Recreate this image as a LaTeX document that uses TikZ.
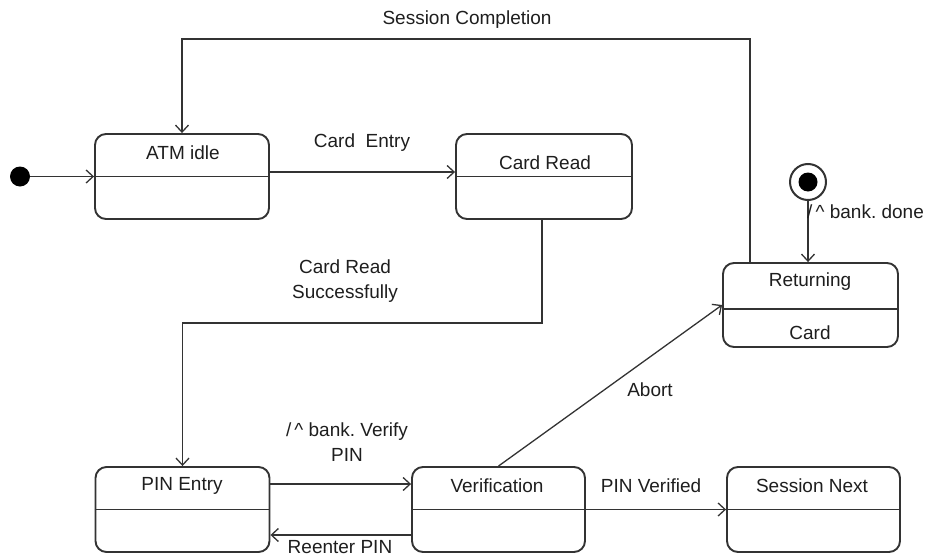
\documentclass[tikz,border=0pt]{standalone}
\usepackage{fontspec}
\setmainfont{Liberation Sans}
\usetikzlibrary{arrows.meta,calc}
\definecolor{ink}{HTML}{333333}
\definecolor{txt}{HTML}{1E1E1E}
\begin{document}
\begin{tikzpicture}[x=1pt,y=-1pt,
  every node/.style={font=\fontsize{19}{25}\selectfont, text=txt},
  statebox/.style={draw=ink, line width=1.9pt, rounded corners=11pt,
    minimum height=85pt, inner sep=0pt},
  divider/.style={draw=ink, line width=1.6pt},
  trans/.style={draw=ink, line width=1.3pt,
    -{Straight Barb[length=7pt,width=13pt,line width=1.3pt]}},
  lbl/.style={align=center, inner sep=1pt}]
\useasboundingbox (0,0) rectangle (938,557);

% pseudo states
\node[circle, fill=black, minimum size=20pt, inner sep=0pt] (init) at (20,176.5) {};
\node[circle, draw=ink, line width=2pt, minimum size=36pt, inner sep=0pt] (final) at (808,182) {};
\node[circle, fill=black, minimum size=19pt, inner sep=0pt] (finaldot) at (808,182) {};

% states
\node[statebox, minimum width=174pt] (atm) at (182,176.5) {};
\node[statebox, minimum width=176pt] (cr)  at (544,176.5) {};
\node[statebox, minimum width=174pt] (pin) at (182.5,509.5) {};
\node[statebox, minimum width=173pt] (ver) at (498.5,509.5) {};
\node[statebox, minimum width=173pt] (sn)  at (813.5,509.5) {};
\node[statebox, minimum width=175pt, minimum height=84pt] (ret) at (810.5,305) {};

\foreach \s in {atm,cr,pin,ver,sn} \draw[divider] (\s.west) -- (\s.east);
\draw[divider] ($(ret.west)+(0,4)$) -- ($(ret.east)+(0,4)$);

% state names
\node (atmT) at (183,153) {ATM idle};
\node (crT)  at (545,163) {Card Read};
\node (pinT) at (182,486) {PIN Entry};
\node (verT) at (497,486) {Verification};
\node (snT)  at (812,486) {Session Next};
\node (retT) at (810,282) {Returning};
\node (retB) at (810,333) {Card};

% transitions
\draw[trans] (init) -- (atm.west);
\draw[trans] ($(atm.east)+(0,-4.5)$) -- ($(cr.west)+(0,-4.5)$);
\draw[trans] ($(cr.south)+(-2,0)$) |- ($(pin.north)+(0,-143)$) -- (pin.north);
\draw[trans] ($(ret.north west)+(28,0)$) |- ($(atm.north)+(0,-94)$) -- (atm.north);
\draw[trans] ($(pin.east)+(0,-25.5)$) -- ($(ver.west)+(0,-25.5)$);
\draw[trans] ($(ver.west)+(0,25.5)$) -- ($(pin.east)+(0,25.5)$);
\draw[trans] (ver.east) -- (sn.west);
\draw[trans] (ver.north) -- (ret.west);
\draw[trans] (final.south) -- (final.south |- ret.north);

% transition labels
\node[lbl] (l1) at (467,20) {Session Completion};
\node[lbl] (l2) at (362,143) {Card\ \ Entry};
\node[lbl] (l3) at (345,281) {Card Read\\Successfully};
\node[lbl] (l4) at (347,442) {/\,\^{}\ bank.\ Verify\\PIN};
\node[lbl] (l5) at (340,547) {Reenter PIN};
\node[lbl] (l6) at (651,486) {PIN Verified};
\node[lbl] (l7) at (650,390) {Abort};
\node[lbl, anchor=west] (l8) at (806,212) {/\,\^{}\ bank.\ done};
\end{tikzpicture}
\end{document}
